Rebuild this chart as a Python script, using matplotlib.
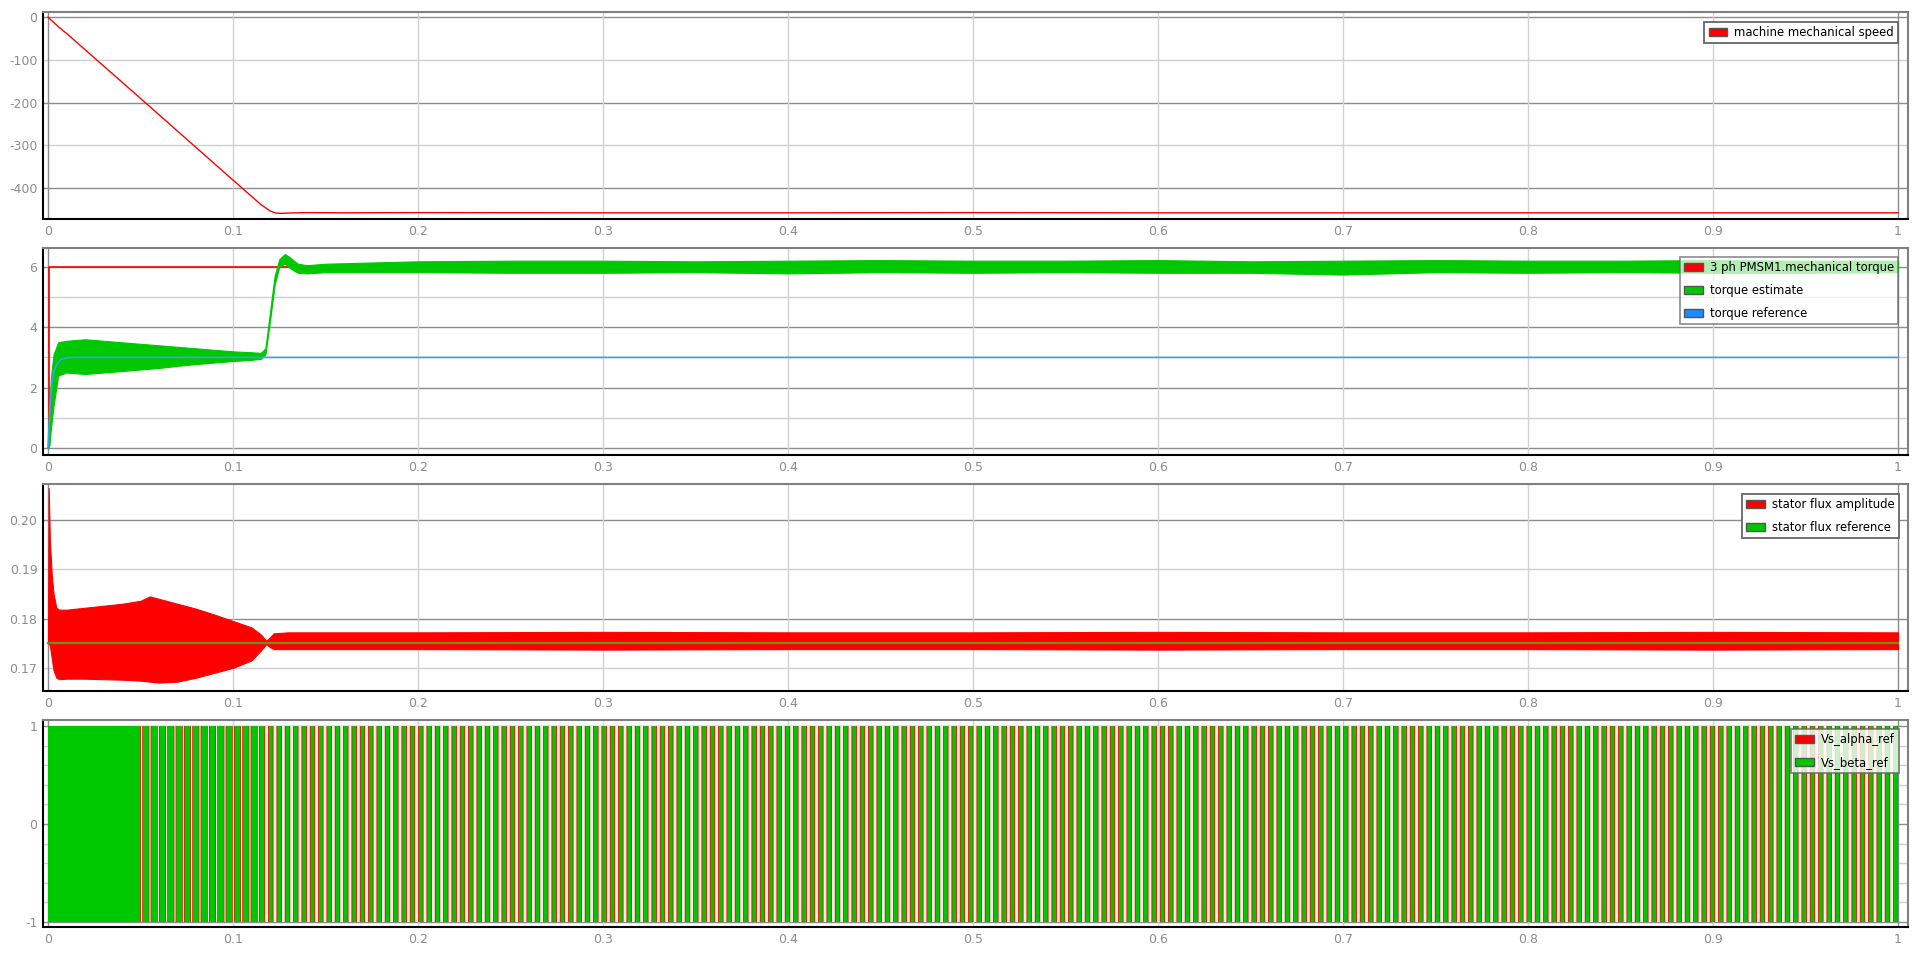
import matplotlib.pyplot as plt
from matplotlib.patches import Patch

plt.rcParams['axes.unicode_minus'] = False
plt.rcParams['font.family'] = ['DejaVu Sans']

# time axis ticks shared by every scope panel
x_ticks = [0, 0.1, 0.2, 0.3, 0.4, 0.5, 0.6, 0.7, 0.8, 0.9, 1.0]
x_tick_labels = ['0', '0.1', '0.2', '0.3', '0.4', '0.5', '0.6', '0.7', '0.8', '0.9', '1']

# panel 1: machine mechanical speed
speed_t = [0, 0.001, 0.003, 0.006, 0.01, 0.05, 0.1, 0.115, 0.12, 0.123, 0.126,
           0.13, 0.14, 0.16, 0.2, 0.3, 0.4, 0.5, 0.6, 0.7, 0.8, 0.9, 1.0]
speed_v = [0, -4, -12, -24, -38, -190, -381, -438, -453, -458, -459,
           -458, -457, -457.5, -457, -457.5, -457.5, -457, -457.5, -457.5, -457.5, -457.5, -457.5]

# panel 2: torques
mech_torque_t = [0, 0.0005, 0.0005, 1.0]
mech_torque_v = [0, 0, 6, 6]
torque_ref_t = [0, 0.001, 0.002, 0.003, 0.005, 0.007, 0.01, 0.015, 1.0]
torque_ref_v = [0, 1.3, 2.1, 2.5, 2.8, 2.93, 2.99, 3.0, 3.0]
torque_est_t = [0, 0.0008, 0.0015, 0.003, 0.0055, 0.01, 0.02, 0.03, 0.04, 0.05, 0.06,
                0.07, 0.08, 0.09, 0.1, 0.11, 0.115, 0.1175, 0.12, 0.1225, 0.125, 0.128,
                0.131, 0.135, 0.14, 0.15, 0.2, 0.25, 0.3, 0.35, 0.4, 0.45, 0.5, 0.55,
                0.6, 0.65, 0.7, 0.75, 0.8, 0.85, 0.9, 0.95, 1.0]
torque_est_hi = [0, 1.2, 2.3, 3.1, 3.5, 3.55, 3.6, 3.55, 3.5, 3.45, 3.4,
                 3.35, 3.3, 3.25, 3.2, 3.17, 3.15, 3.3, 4.5, 5.7, 6.25, 6.42,
                 6.3, 6.1, 6.05, 6.1, 6.18, 6.2, 6.2, 6.18, 6.2, 6.22, 6.2, 6.2,
                 6.22, 6.18, 6.2, 6.22, 6.2, 6.2, 6.22, 6.2, 6.2]
torque_est_lo = [0, 0.1, 0.6, 1.4, 2.4, 2.5, 2.45, 2.5, 2.55, 2.6, 2.65,
                 2.72, 2.78, 2.83, 2.88, 2.92, 2.95, 3.1, 4.2, 5.4, 6.0, 6.1,
                 5.95, 5.8, 5.78, 5.82, 5.82, 5.8, 5.8, 5.82, 5.78, 5.82, 5.8, 5.82,
                 5.8, 5.8, 5.74, 5.82, 5.8, 5.82, 5.8, 5.8, 5.82]

# panel 3: stator flux
flux_ref_t = [0, 1.0]
flux_ref_v = [0.175, 0.175]
flux_amp_t = [0, 0.0004, 0.001, 0.002, 0.003, 0.0045, 0.006, 0.01, 0.02, 0.03, 0.04,
              0.05, 0.055, 0.06, 0.07, 0.08, 0.09, 0.1, 0.11, 0.115, 0.118, 0.12,
              0.122, 0.13, 0.2, 0.3, 0.4, 0.5, 0.6, 0.7, 0.8, 0.9, 1.0]
flux_amp_hi = [0.175, 0.2065, 0.196, 0.189, 0.185, 0.1822, 0.1818, 0.1818, 0.1822, 0.1826, 0.1830,
               0.1836, 0.1845, 0.1840, 0.1830, 0.1820, 0.1808, 0.1795, 0.1782, 0.1768, 0.1755, 0.1762,
               0.1770, 0.1772, 0.1772, 0.1773, 0.1772, 0.1772, 0.1773, 0.1772, 0.1772, 0.1773, 0.1772]
flux_amp_lo = [0.175, 0.175, 0.1745, 0.172, 0.1695, 0.168, 0.1677, 0.1678, 0.1678, 0.1677, 0.1676,
               0.1674, 0.1672, 0.1670, 0.1672, 0.1680, 0.1690, 0.1700, 0.1715, 0.1735, 0.1748, 0.1742,
               0.1738, 0.1738, 0.1738, 0.1737, 0.1738, 0.1738, 0.1737, 0.1738, 0.1738, 0.1737, 0.1738]

# panel 4: voltage references (dense sine, drawn as its +-1 envelope)
vs_dense_t = [0, 0.05]
vs_mid_t = [0.05, 0.115]
vs_stripe_t = [0.115, 1.0]
vs_hi = [1, 1]
vs_lo = [-1, -1]

RED = '#ff0000'
GREEN = '#00c800'
BLUE = '#1a8cff'

fig = plt.figure(figsize=(19.2, 9.59), dpi=100)
W, H = 1920, 959
panel_px = [(12, 219), (248, 455), (484, 691), (720, 927)]
axes = []
for top, bot in panel_px:
    axes.append(fig.add_axes([43 / W, 1 - bot / H, 1865 / W, (bot - top) / H]))

ylims = [(-472, 12), (-0.23, 6.62), (0.1653, 0.2073), (-1.05, 1.06)]
yticks = [[0, -100, -200, -300, -400], [0, 2, 4, 6], [0.17, 0.18, 0.19, 0.20], [-1, 0, 1]]
ytick_labels = [['0', '-100', '-200', '-300', '-400'], ['0', '2', '4', '6'],
                ['0.17', '0.18', '0.19', '0.20'], ['-1', '0', '1']]
dark_grid = [[0, -200, -400], [0, 2, 4, 6], [0.18, 0.20], [-1, 0, 1]]
light_grid = [[-100, -300], [1, 3, 5], [0.17, 0.19],
              [-0.8, -0.6, -0.4, -0.2, 0.2, 0.4, 0.6, 0.8]]

for i, ax in enumerate(axes):
    ax.set_xlim(-0.0027, 1.0054)
    ax.set_ylim(*ylims[i])
    for y in light_grid[i]:
        ax.axhline(y, color='#cfcfcf', lw=1.0, zorder=0)
    for y in dark_grid[i]:
        ax.axhline(y, color='#8c8c8c', lw=1.0, zorder=0)
    for x in x_ticks[1:-1]:
        ax.axvline(x, color='#d2d2d2', lw=1.0, zorder=0)
    ax.axvline(0, color='#8c8c8c', lw=1.0, zorder=0)
    ax.axvline(1, color='#8c8c8c', lw=1.0, zorder=0)
    ax.set_xticks(x_ticks)
    ax.set_xticklabels(x_tick_labels)
    ax.set_yticks(yticks[i])
    ax.set_yticklabels(ytick_labels[i])
    ax.tick_params(length=0, labelsize=9, labelcolor='#8c8c8c', pad=4)
    ax.spines['left'].set_color('black')
    ax.spines['bottom'].set_color('black')
    ax.spines['top'].set_color('#808080')
    ax.spines['right'].set_color('#808080')
    for s in ax.spines.values():
        s.set_linewidth(1.5)

legend_kw = dict(loc='upper right', fontsize=8.4, fancybox=False, edgecolor='#666666',
                 handlelength=1.6, handleheight=0.65, handletextpad=0.6, borderpad=0.35,
                 labelspacing=0.85, borderaxespad=0)

# panel 1
ax = axes[0]
ax.plot(speed_t, speed_v, color=RED, lw=1.0)
leg = ax.legend(handles=[Patch(facecolor=RED, edgecolor='#555555', label='machine mechanical speed')],
                bbox_to_anchor=(0.9946, 0.952), framealpha=1, **legend_kw)
leg.get_frame().set_linewidth(1.3)

# panel 2
ax = axes[1]
ax.plot(mech_torque_t, mech_torque_v, color=RED, lw=1.2, zorder=2)
ax.fill_between(torque_est_t, torque_est_hi, torque_est_lo, color=GREEN, lw=0.8, zorder=3)
ax.plot(torque_ref_t, torque_ref_v, color='#3ca0f0', lw=1.2, zorder=4)
leg = ax.legend(handles=[Patch(facecolor=RED, edgecolor='#555555', label='3 ph PMSM1.mechanical torque'),
                         Patch(facecolor=GREEN, edgecolor='#555555', label='torque estimate'),
                         Patch(facecolor=BLUE, edgecolor='#555555', label='torque reference')],
                bbox_to_anchor=(0.9946, 0.9565), framealpha=0.7, **legend_kw)
leg.get_frame().set_linewidth(1.3)

# panel 3
ax = axes[2]
ax.fill_between(flux_amp_t, flux_amp_hi, flux_amp_lo, color=RED, lw=0.8, zorder=2)
ax.plot(flux_ref_t, flux_ref_v, color='#6a9410', lw=1.6, zorder=3)
leg = ax.legend(handles=[Patch(facecolor=RED, edgecolor='#555555', label='stator flux amplitude'),
                         Patch(facecolor=GREEN, edgecolor='#555555', label='stator flux reference')],
                bbox_to_anchor=(0.9951, 0.952), framealpha=1, **legend_kw)
leg.get_frame().set_linewidth(1.3)


# panel 4: stripes come from the hatch pattern, red under green
def hatched_band(ax, t, color, face, width, z):
    with plt.rc_context({'hatch.linewidth': width}):
        band = ax.fill_between(t, vs_hi, vs_lo, facecolor=face, edgecolor=color,
                               hatch='||', lw=0, zorder=z)
    if hasattr(band, 'set_hatch_linewidth'):
        band.set_hatch_linewidth(width)
    return band


ax = axes[3]
ax.fill_between(vs_dense_t, vs_hi, vs_lo, color=GREEN, lw=0, zorder=2)
hatched_band(ax, vs_mid_t, RED, 'white', 5.2, 2)
hatched_band(ax, vs_mid_t, GREEN, 'none', 4.2, 3)
hatched_band(ax, vs_stripe_t, RED, '#f6ece8', 3.9, 2)
hatched_band(ax, vs_stripe_t, GREEN, 'none', 2.7, 3)
leg = ax.legend(handles=[Patch(facecolor=RED, edgecolor='#555555', label='Vs_alpha_ref'),
                         Patch(facecolor=GREEN, edgecolor='#555555', label='Vs_beta_ref')],
                bbox_to_anchor=(0.9951, 0.9565), framealpha=0.8, **legend_kw)
leg.get_frame().set_linewidth(1.3)
leg.set_zorder(10)

fig.savefig('out.png', dpi=100)
